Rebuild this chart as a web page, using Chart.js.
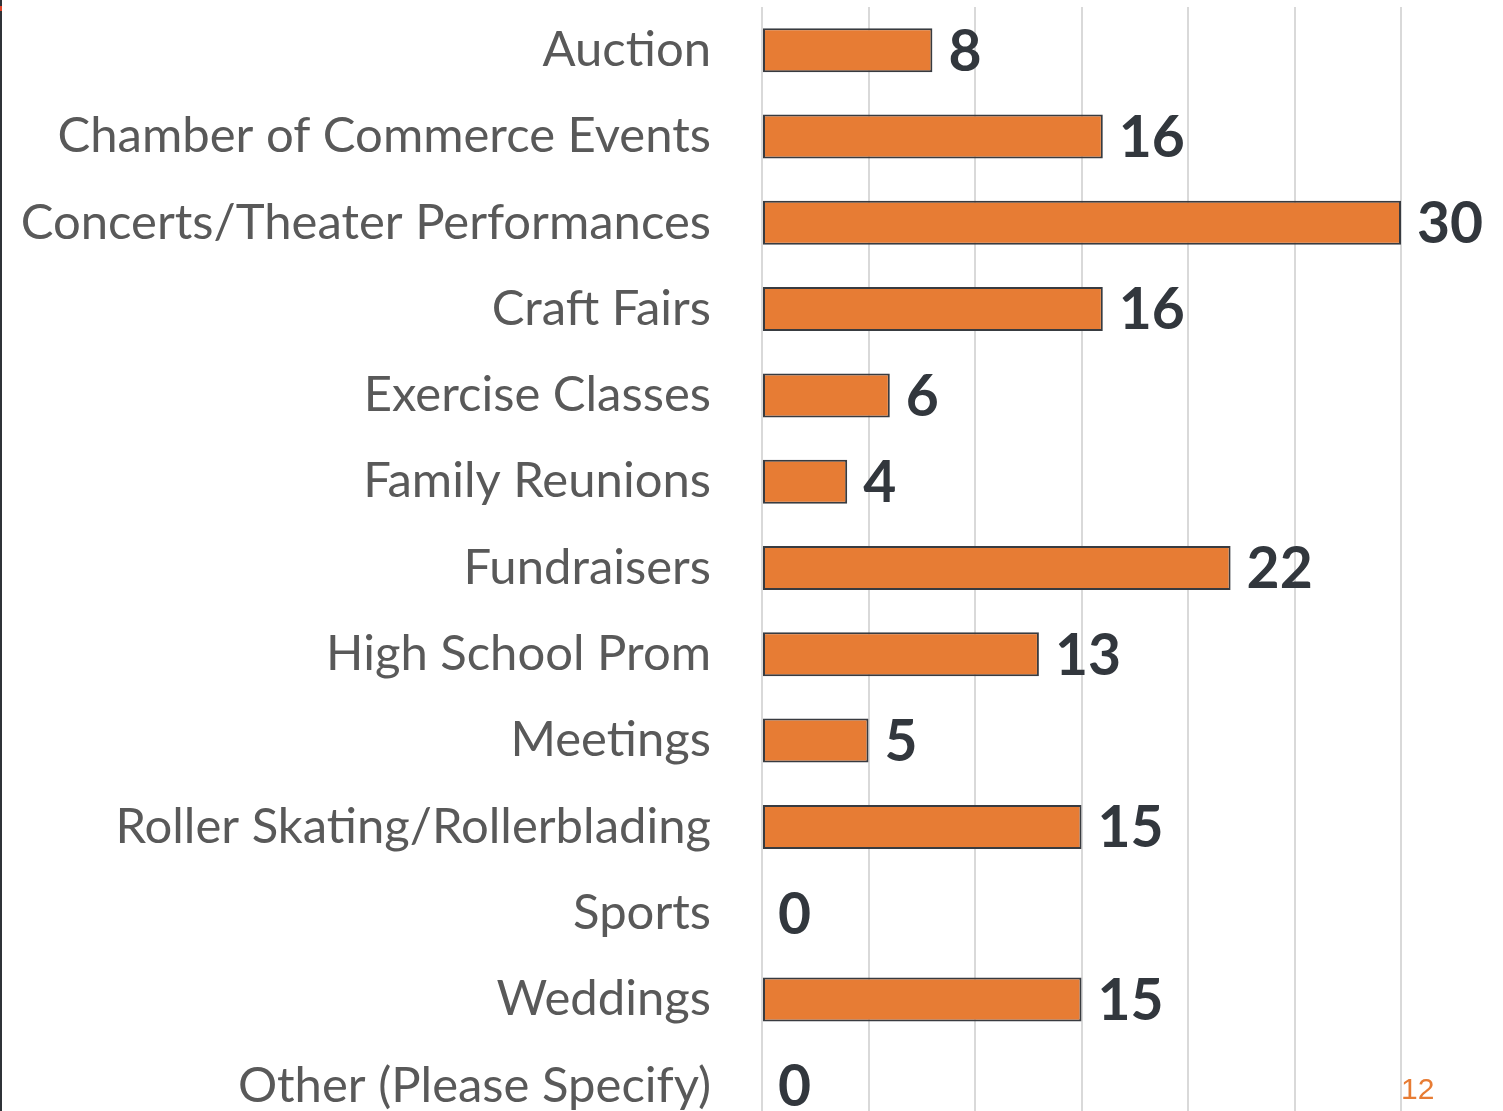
<!DOCTYPE html>
<html><head><meta charset="utf-8">
<script src="https://cdn.jsdelivr.net/npm/chart.js@4.4.1/dist/chart.umd.min.js"></script>
<style>
html,body{margin:0;padding:0;background:#fff;overflow:hidden;width:1503px;height:1111px;}
#wrap{position:absolute;left:0;top:0;width:1503px;height:1130px;}
#edge{position:absolute;left:0;top:0;width:2px;height:1111px;background:#2f3338;}
#edgeRed{position:absolute;left:0;top:6px;width:2px;height:5px;background:#e0452a;}
#page{position:absolute;left:1401px;top:1072px;font:30px Arial,"Liberation Sans",sans-serif;color:#e77c34;}
</style></head>
<body>
<div id="wrap"><canvas id="c" width="1503" height="1130"></canvas></div>
<div id="edge"></div><div id="edgeRed"></div>
<div id="page">12</div>
<script>
const categories = ["Auction","Chamber of Commerce Events","Concerts/Theater Performances","Craft Fairs","Exercise Classes","Family Reunions","Fundraisers","High School Prom","Meetings","Roller Skating/Rollerblading","Sports","Weddings","Other (Please Specify)"];
const values = [8,16,30,16,6,4,22,13,5,15,0,15,0];
const xMin = 0, xMax = 30, xStep = 5;

const FONT = "Lato, 'Open Sans', sans-serif";
const mctx = document.createElement('canvas').getContext('2d');
mctx.font = "100px " + FONT;
const wLong = mctx.measureText("Concerts/Theater Performances").width;
const labelSize = Math.round(100 * 691 / wLong);

const dataLabels = {
  id: 'dataLabels',
  afterDatasetsDraw(chart) {
    const ctx = chart.ctx;
    const meta = chart.getDatasetMeta(0);
    ctx.save();
    ctx.font = "bold 57px " + FONT;
    ctx.fillStyle = "#32373d";
    ctx.textAlign = "left";
    ctx.textBaseline = "middle";
    meta.data.forEach((bar, i) => {
      ctx.fillText(String(values[i]), bar.x + 16, bar.y + 2);
    });
    ctx.restore();
  }
};

new Chart(document.getElementById('c'), {
  type: 'bar',
  data: {
    labels: categories,
    datasets: [{
      data: values,
      backgroundColor: "#e77c34",
      borderColor: "#383b40",
      borderWidth: 2,
      borderSkipped: false,
      categoryPercentage: 0.51,
      barPercentage: 1.0
    }]
  },
  options: {
    indexAxis: 'y',
    responsive: false,
    animation: false,
    layout: { padding: { left: 0, right: 102, top: 7, bottom: 1 } },
    plugins: { legend: { display: false }, tooltip: { enabled: false } },
    scales: {
      x: {
        min: xMin, max: xMax,
        ticks: { display: false, stepSize: xStep },
        grid: { color: "#d9d9d9", lineWidth: 2, drawTicks: false },
        border: { display: false },
        afterFit(scale) { scale.height = 0; scale.paddingLeft = 0; scale.paddingRight = 0; }
      },
      y: {
        afterFit(scale) { scale.width = 762; scale.paddingTop = 0; scale.paddingBottom = 0; },
        ticks: { color: "#595959", font: { family: FONT, size: labelSize }, padding: 51, autoSkip: false },
        grid: { display: false, drawTicks: false },
        border: { display: false }
      }
    }
  },
  plugins: [dataLabels]
});
</script>
</body></html>
